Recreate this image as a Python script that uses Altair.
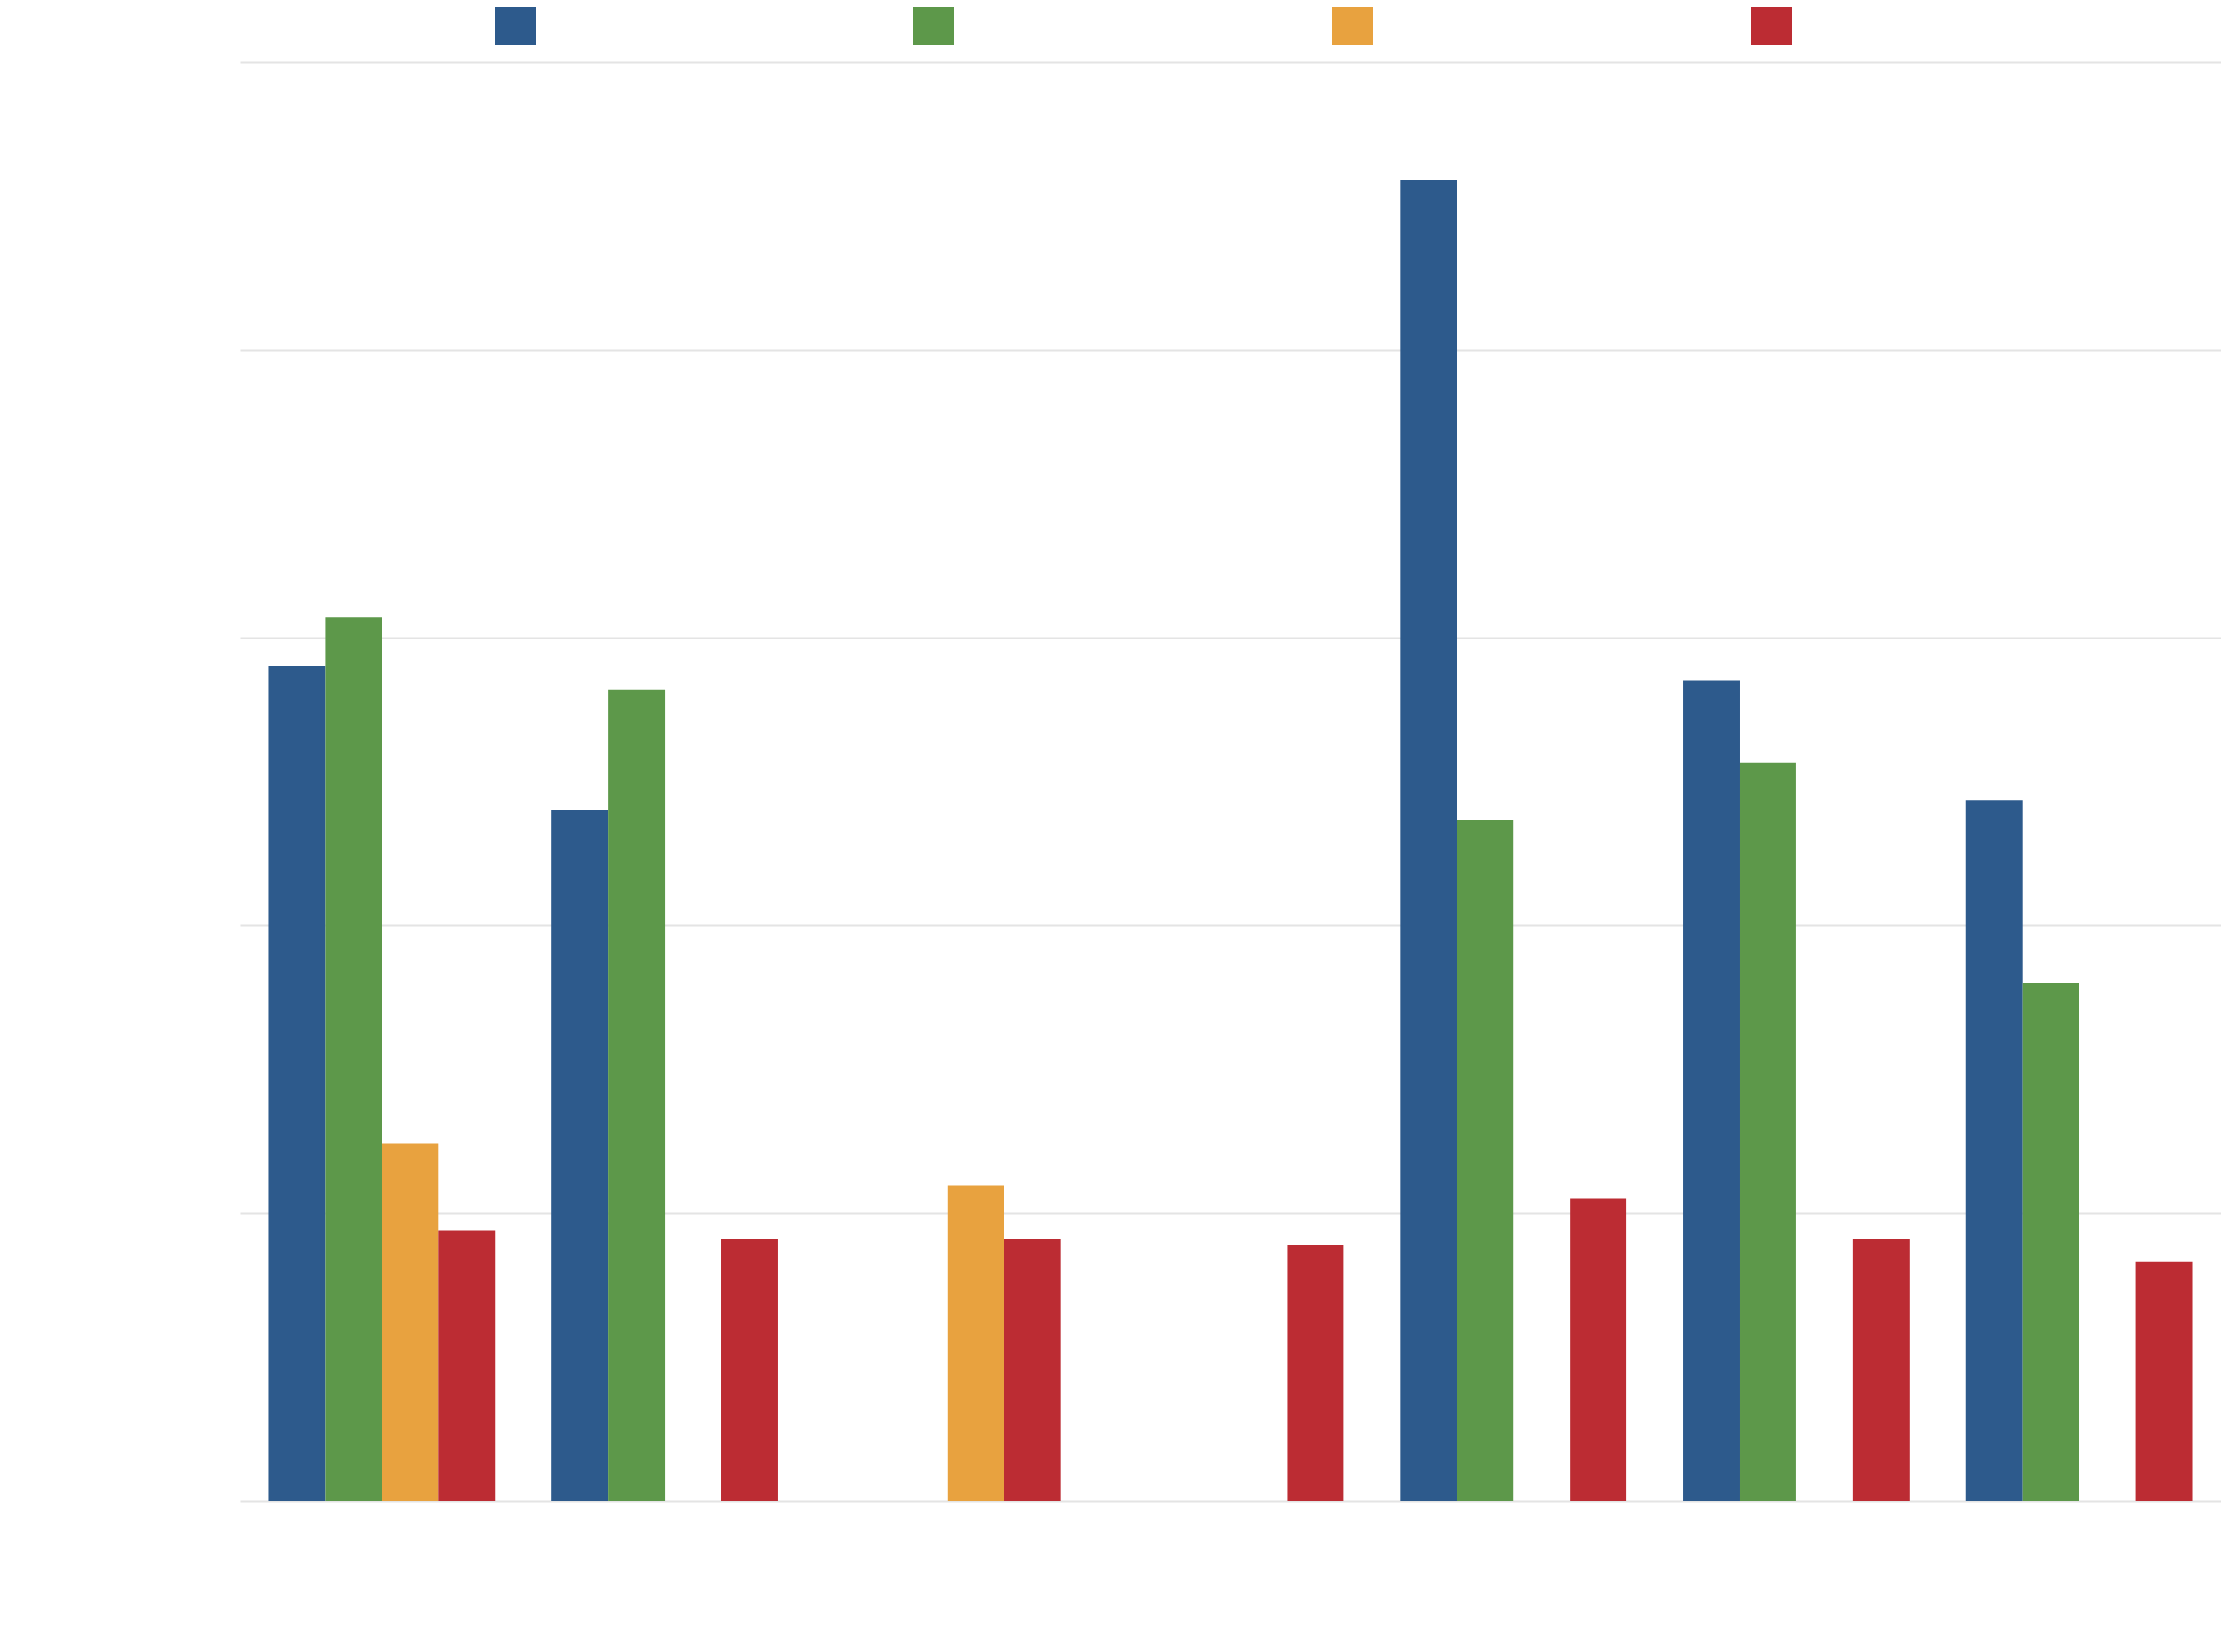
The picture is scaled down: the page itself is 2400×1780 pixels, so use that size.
import altair as alt
import pandas as pd

groups = ["G1", "G2", "G3", "G4", "G5", "G6", "G7"]
series = ["S1", "S2", "S3", "S4"]
colors = ["#2d5a8c", "#5d984a", "#e8a23f", "#bc2c33"]

s1 = [29.0, 24.0, None, None, 45.9, 28.5, 24.35]
s2 = [30.7, 28.2, None, None, 23.65, 25.65, 18.0]
s3 = [12.4, None, 10.95, None, None, None, None]
s4 = [9.4, 9.1, 9.1, 8.9, 10.5, 9.1, 8.3]

rows = []
for name, vals in zip(series, [s1, s2, s3, s4]):
    for g, v in zip(groups, vals):
        if v is not None:
            rows.append({"group": g, "series": name, "value": v})
df = pd.DataFrame(rows)

chart = alt.Chart(df).mark_bar().encode(
    x=alt.X("group:N", sort=groups,
            scale=alt.Scale(paddingInner=0.2, paddingOuter=0.1),
            axis=alt.Axis(labels=False, ticks=False, domain=False, title=None, grid=False)),
    xOffset=alt.XOffset("series:N", sort=series,
                        scale=alt.Scale(domain=series, paddingInner=0, paddingOuter=0)),
    y=alt.Y("value:Q", scale=alt.Scale(domain=[0, 50], nice=False),
            axis=alt.Axis(values=[0, 10, 20, 30, 40, 50], labels=False, ticks=False,
                          domain=False, title=None, grid=True,
                          gridColor="#e4e4e4", gridWidth=2)),
    color=alt.Color("series:N", sort=series,
                    scale=alt.Scale(domain=series, range=colors),
                    legend=alt.Legend(orient="none", direction="horizontal",
                                      legendX=274, legendY=-62, title=None,
                                      symbolType="square", symbolSize=1936,
                                      symbolStrokeWidth=0, symbolOpacity=1,
                                      labelExpr="''", labelOffset=0,
                                      columnPadding=407, padding=0, offset=0)),
).properties(
    width=2133, height=1550,
    autosize=alt.AutoSizeParams(type="none"),
    padding={"left": 251, "top": 59, "right": 0, "bottom": 150},
).configure_view(stroke=None)

chart.save("out.html", embed_options={"renderer": "svg", "actions": False})
